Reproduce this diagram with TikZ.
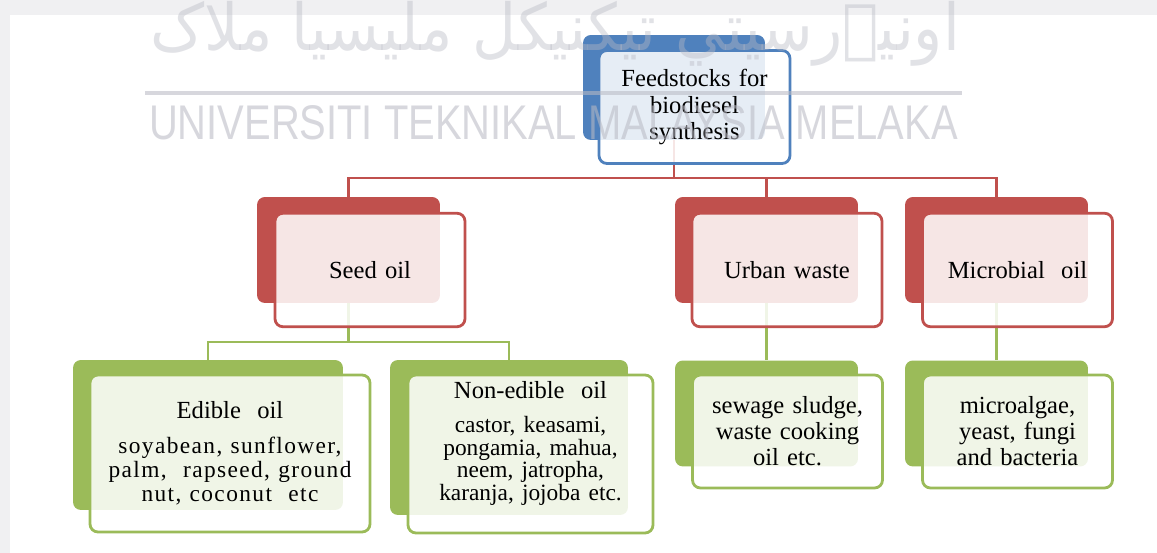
\documentclass[tikz,border=0pt]{standalone}
\usepackage{graphicx}
\usepackage{fontspec}
\setmainfont{Liberation Serif}
\newfontfamily\wmsans{Liberation Sans}
\newfontfamily\jawifont[Script=Arabic]{DejaVu Sans}
\TeXXeTstate=1
\usepackage{tikz}
\usetikzlibrary{positioning}
\definecolor{fsblue}{RGB}{79,129,189}
\definecolor{fsred}{RGB}{192,80,77}
\definecolor{fsgreen}{RGB}{155,187,89}
\definecolor{wmgray}{RGB}{185,186,196}
\definecolor{pagegray}{RGB}{240,240,242}
\newcommand{\headfont}{\fontsize{14}{14.8}\selectfont}
\newcommand{\subfont}{\fontsize{13.3}{12.8}\selectfont}
\tikzset{
  backbox/.style={
    rounded corners=4.5pt, inner sep=0pt,
    minimum width=3.66cm, minimum height=2.12cm
  },
  frontbox/.style={
    draw, rounded corners=4.5pt, line width=1.6pt,
    fill=white, fill opacity=0.86, text opacity=1,
    minimum width=3.8cm, minimum height=2.27cm, inner sep=0pt,
    align=center, text width=3.6cm, font=\headfont
  },
  redlink/.style={draw=fsred, line width=1.7pt},
  greenlink/.style={draw=fsgreen, line width=1.7pt},
  wmark/.style={inner sep=0pt, text=wmgray, text opacity=0.57},
  wmline/.style={draw=wmgray, line width=2.2pt, draw opacity=0.57},
}

\begin{document}
\begin{tikzpicture}[x={(0.02cm,0)}, y={(0,-0.02cm)}]
  \useasboundingbox (0,0) rectangle (1157,553);
  \clip (0,0) rectangle (1157,553);
  \fill[pagegray] (0,0) rectangle (1157,553);
  \fill[white] (10,15) rectangle (1157,553);

  % back plates
  \node[backbox, fill=fsblue, minimum width=3.64cm, minimum height=2.1cm] (topb) at (674,87.5) {};
  \node[backbox, fill=fsred] (seedb) at (348.5,250) {};
  \node[backbox, fill=fsred] (urbanb) at (766.5,250) {};
  \node[backbox, fill=fsred] (microb) at (996.5,250) {};
  \node[backbox, fill=fsgreen, minimum width=5.4cm, minimum height=3cm] (edibleb) at (208,435) {};
  \node[backbox, fill=fsgreen, minimum width=4.76cm, minimum height=3.1cm] (nonedibleb) at (509,437.5) {};
  \node[backbox, fill=fsgreen] (urbangb) at (766.5,413.5) {};
  \node[backbox, fill=fsgreen] (microgb) at (996.5,413.5) {};

  % links
  \coordinate (redbus) at (0,178);
  \coordinate (greenbus) at (0,342);
  \draw[redlink] (topb.south) -- (topb.south |- redbus);
  \draw[redlink] (seedb.north) |- (microb.north |- redbus) -- (microb.north);
  \draw[redlink] (urbanb.north) -- (urbanb.north |- redbus);
  \draw[greenlink] (seedb.south) -- (seedb.south |- greenbus);
  \draw[greenlink] (edibleb.north) |- (nonedibleb.north |- greenbus) -- (nonedibleb.north);
  \draw[greenlink] (urbanb.south) -- (urbangb.north);
  \draw[greenlink] (microb.south) -- (microgb.north);

  % front boxes
  \node[frontbox, draw=fsblue, minimum width=3.82cm, minimum height=2.26cm] (top) at (694.5,107) {Feedstocks for\\ biodiesel\\ synthesis};
  \node[frontbox, draw=fsred] (seed) at (370,270) {Seed oil};
  \node[frontbox, draw=fsred] (urban) at (787,270) {Urban waste};
  \node[frontbox, draw=fsred] (microbial) at (1017.5,270) {Microbial~ oil};
  \node[frontbox, draw=fsgreen, minimum width=5.6cm, minimum height=3.14cm, text width=5.4cm] (edible) at (230,453.5)
    {Edible~ oil\par\vspace{6.5pt}{\fontsize{13.3}{13.6}\selectfont\addfontfeature{LetterSpace=6}soyabean, sunflower,\\ palm,~ rapseed, ground\\ nut, coconut~ etc\par}};
  \node[frontbox, draw=fsgreen, minimum width=4.9cm, minimum height=3.16cm, text width=4.7cm] (nonedible) at (530.5,454)
    {Non-edible~ oil\par\vspace{6.5pt}{\subfont castor, keasami,\\ pongamia, mahua,\\ neem, jatropha,\\ karanja, jojoba etc.\par\vspace{2pt}\mbox{}\par}};
  \node[frontbox, draw=fsgreen, minimum height=2.26cm] (urbang) at (787.5,431.5) {sewage sludge,\\ waste cooking\\ oil etc.};
  \node[frontbox, draw=fsgreen, minimum height=2.26cm] (microg) at (1017.5,431.5) {microalgae,\\ yeast, fungi\\ and bacteria};

  % watermark
  \node[wmark, text opacity=0.42] (wmjawi) at (555,34) {\resizebox*{16.2cm}{1.3cm}{\jawifont\beginR اونيۏرسيتي تيکنيکل مليسيا ملاک\endR}};
  \draw[wmline] (145,93) -- (962,93);
  \node[wmark, font=\wmsans\fontsize{27.7}{30}\selectfont] (wmlatin) at (553.5,122.5) {\scalebox{0.82}[1]{UNIVERSITI TEKNIKAL MALAYSIA MELAKA}};
\end{tikzpicture}
\end{document}
